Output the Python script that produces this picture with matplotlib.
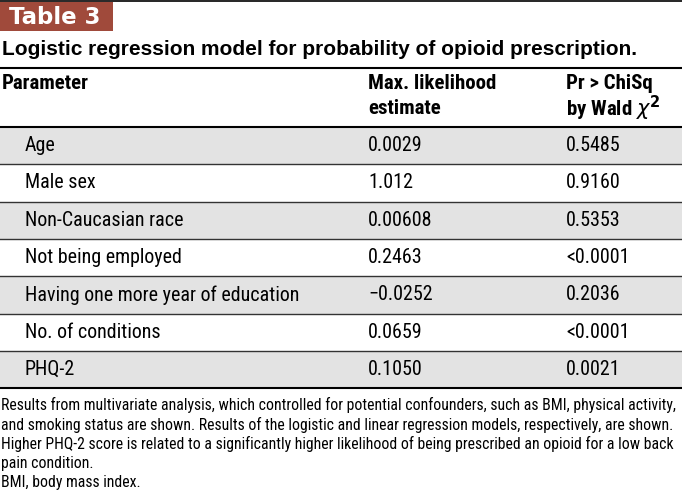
"""Table 3: logistic regression model for probability of opioid prescription"""

import matplotlib
matplotlib.use("Agg")
import matplotlib.pyplot as plt

title_tag = "Table 3"
title = "Logistic regression model for probability of opioid prescription."
col_headers = ["Parameter", "Max. likelihood\nestimate", "Pr > ChiSq\nby Wald $\\chi^{\\mathbf{2}}$"]
parameters = [
    "Age",
    "Male sex",
    "Non-Caucasian race",
    "Not being employed",
    "Having one more year of education",
    "No. of conditions",
    "PHQ-2",
]
estimates = ["0.0029", "1.012", "0.00608", "0.2463", "\u22120.0252", "0.0659", "0.1050"]
p_values = ["0.5485", "0.9160", "0.5353", "<0.0001", "0.2036", "<0.0001", "0.0021"]
footnotes = [
    "Results from multivariate analysis, which controlled for potential confounders, such as BMI, physical activity,",
    "and smoking status are shown. Results of the logistic and linear regression models, respectively, are shown.",
    "Higher PHQ-2 score is related to a significantly higher likelihood of being prescribed an opioid for a low back",
    "pain condition.",
    "BMI, body mass index.",
]

W, H = 682, 501
fig = plt.figure(figsize=(W / 100, H / 100), dpi=100)
ax = fig.add_axes([0, 0, 1, 1])
ax.set_xlim(0, W)
ax.set_ylim(H, 0)
ax.axis("off")

narrow = ["Roboto Condensed", "DejaVu Sans"]
col_x = [2, 368, 566]

# tag box + top rule
ax.axhline(1, color="black", lw=1.2)
ax.add_patch(plt.Rectangle((0, 2), 113, 29, color="#A04A3B", lw=0))
ax.text(9, 17, title_tag, color="white", fontsize=16.5, fontweight="bold",
        family="DejaVu Sans", va="center")
ax.text(2, 49, title, fontsize=15, fontweight="bold", family="Liberation Sans", va="center")
ax.axhline(68, color="black", lw=1.5)

# header
ax.text(col_x[0], 83, col_headers[0], fontsize=15, fontweight="bold", family=narrow, va="center")
for x, h in zip(col_x[1:], col_headers[1:]):
    l1, l2 = h.split("\n")
    ax.text(x, 83, l1, fontsize=15, fontweight="bold", family=narrow, va="center")
    ax.text(x, 108, l2, fontsize=15, fontweight="bold", family=narrow, va="center")
ax.axhline(127, color="black", lw=1.5)

# body rows
top, row_h = 127, 37.3
for i, (p, e, pv) in enumerate(zip(parameters, estimates, p_values)):
    y0 = top + i * row_h
    if i % 2 == 0:
        ax.axhspan(y0, y0 + row_h, color="#E3E3E3", lw=0)
    if i > 0:
        ax.axhline(y0, color="#333333", lw=1)
    yc = y0 + row_h / 2
    ax.text(25, yc, p, fontsize=14.4, family=narrow, va="center")
    ax.text(col_x[1], yc, e, fontsize=14.4, family=narrow, va="center")
    ax.text(col_x[2], yc, pv, fontsize=14.4, family=narrow, va="center")
ax.axhline(top + len(parameters) * row_h, color="black", lw=1.5)

# footnotes
for i, line in enumerate(footnotes):
    ax.text(1, 405 + i * 19.5, line, fontsize=11.35, family=narrow, va="center")

fig.savefig("out.png", dpi=100)
